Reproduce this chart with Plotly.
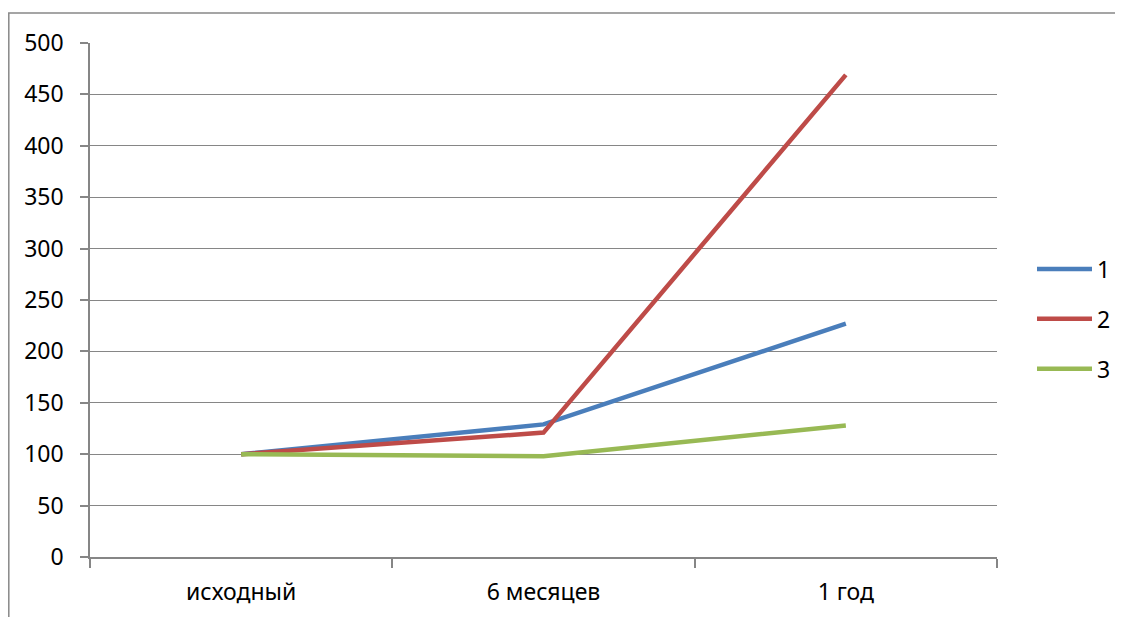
import plotly.graph_objects as go

categories = ["исходный", "6 месяцев", "1 год"]
series_names = ["1", "2", "3"]
series1 = [100, 129, 227]
series2 = [100, 121, 469]
series3 = [100, 98, 128]
colors = ["#4A7EBB", "#BE4B48", "#98B954"]
y_ticks = list(range(0, 501, 50))

fig = go.Figure()
for name, vals, col in zip(series_names, [series1, series2, series3], colors):
    fig.add_trace(go.Scatter(
        x=categories, y=vals, name=name, mode="lines", legendgroup=name,
        line=dict(color=col, width=4.5),
    ))

FONT = "Noto Sans, sans-serif"
GRID = "#868686"

W, H = 1115, 609
L, R, T, B = 82, 126, 35, 60
PW, PH = W - L - R, H - T - B

fig.update_layout(
    width=W, height=H,
    margin=dict(l=L, r=R, t=T, b=B, autoexpand=False),
    paper_bgcolor="white", plot_bgcolor="white",
    font=dict(family=FONT, size=23, color="black"),
    legend=dict(x=(1024 - L) / PW, y=(H - B - 311) / PH, xanchor="left", yanchor="middle",
                tracegroupgap=17, font=dict(size=23), itemwidth=55),
    xaxis=dict(type="category", range=[-0.5, 2.5], showgrid=False,
               showline=True, linecolor=GRID, linewidth=1.5,
               ticks="outside", tickson="boundaries", ticklen=9, tickcolor=GRID,
               tickwidth=1.5, ticklabelstandoff=14, zeroline=False),
    yaxis=dict(range=[0, 500], tickvals=y_ticks, showgrid=True, gridcolor=GRID,
               gridwidth=1.2, showline=True, linecolor=GRID, linewidth=1.5,
               ticks="outside", ticklen=8, tickcolor=GRID, tickwidth=1.5,
               ticklabelstandoff=12, zeroline=False),
)

# outer chart border
fig.add_shape(type="rect", xref="paper", yref="paper",
              x0=(0.8 - L) / PW, x1=(1110 - L) / PW,
              y0=(H - B - 640) / PH, y1=(H - B - 5) / PH,
              line=dict(color="#888888", width=1.5), fillcolor="rgba(0,0,0,0)",
              layer="below")

fig.write_html("out.html")
